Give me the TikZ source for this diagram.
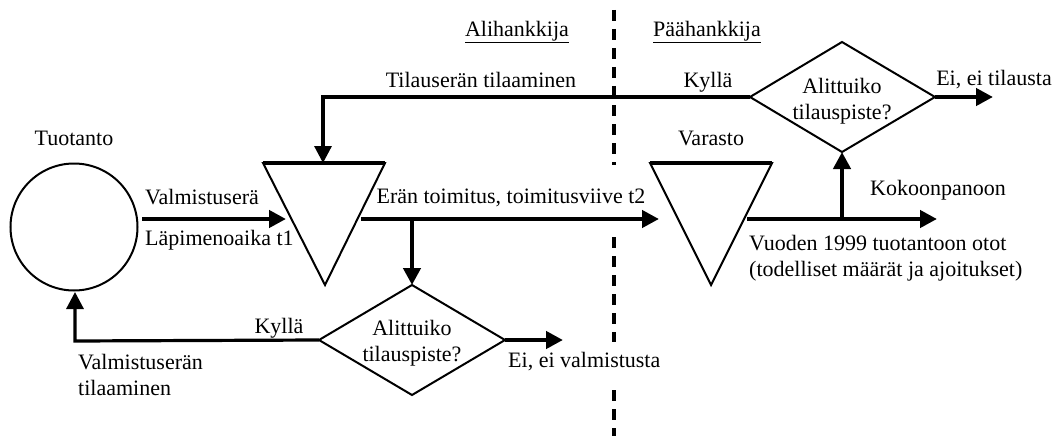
\documentclass[tikz,border=0pt]{standalone}
\usepackage{fontspec}
\setmainfont{Liberation Serif}
\usetikzlibrary{arrows.meta}
\begin{document}
\begin{tikzpicture}[x=1pt,y=-1pt,
  lbl/.style={font=\fontsize{22}{26}\selectfont, inner sep=0pt},
  outline/.style={line width=2pt, line join=miter},
  thickedge/.style={line width=4.5pt},
  thinconn/.style={line width=3.2pt},
  thickconn/.style={line width=4.5pt},
  arr/.style={-{Triangle[length=17pt,width=17pt]}},
  divider/.style={line width=4.5pt, dash pattern=on 11pt off 8pt}]
\useasboundingbox (0,0) rectangle (1055,436);
% dividing line
\coordinate (v1) at (614,10);  \coordinate (v2) at (614,165);
\coordinate (v3) at (614,237); \coordinate (v4) at (614,342);
\coordinate (v5) at (614,390); \coordinate (v6) at (614,436);
\draw[divider] (v1) -- (v2);
\draw[divider] (v3) -- (v4);
\draw[divider] (v5) -- (v6);
\node[lbl] (ali) at (517,32) {\underline{Alihankkija}};
\node[lbl] (paa) at (707,32) {\underline{Päähankkija}};
% production circle
\node[circle, draw, line width=2pt, minimum size=127pt, inner sep=0pt] (tuot) at (74,227) {};
\node[lbl] (tuotl) at (74,138) {Tuotanto};
% triangle 1
\coordinate (t1a) at (263,163); \coordinate (t1b) at (385,163); \coordinate (t1c) at (325,285);
\draw[outline] (t1a) -- (t1b) -- (t1c) -- cycle;
\draw[thickedge] (t1a) -- (t1b);
% triangle Varasto
\coordinate (t2a) at (650,163); \coordinate (t2b) at (772,163); \coordinate (t2c) at (711,285);
\draw[outline] (t2a) -- (t2b) -- (t2c) -- cycle;
\draw[thickedge] (t2a) -- (t2b);
\node[lbl] (varl) at (711,138) {Varasto};
% diamond top
\coordinate (d2l) at (750,97); \coordinate (d2t) at (842,42); \coordinate (d2r) at (935,97); \coordinate (d2b) at (842,152);
\draw[outline] (d2l) -- (d2t) -- (d2r) -- (d2b) -- cycle;
\node[lbl, align=center] (d2) at (842,101) {Alittuiko\\tilauspiste?};
% diamond bottom
\coordinate (d1l) at (319,340); \coordinate (d1t) at (412,285); \coordinate (d1r) at (505,340); \coordinate (d1b) at (412,395);
\draw[outline] (d1l) -- (d1t) -- (d1r) -- (d1b) -- cycle;
\node[lbl, align=center] (d1) at (412,343) {Alittuiko\\tilauspiste?};
% connectors
\coordinate (c1s) at (142,219); \coordinate (c1e) at (286,219);
\draw[thickconn, arr] (c1s) -- (c1e);
\node[lbl, anchor=west] (valm) at (145,197) {Valmistuserä};
\node[lbl, anchor=west] (lapi) at (145,240) {Läpimenoaika t1};
\coordinate (c2s) at (361,219); \coordinate (c2e) at (659,219); \coordinate (c2b) at (412,219);
\draw[thickconn, arr] (c2s) -- (c2e);
\draw[thickconn, arr] (c2b) -- (d1t);
\node[lbl] (eran) at (511,198) {Erän toimitus, toimitusviive t2};
\coordinate (c3s) at (747,219); \coordinate (c3e) at (937,219); \coordinate (c3b) at (842,219);
\draw[thickconn, arr] (c3s) -- (c3e);
\draw[thickconn, arr] (c3b) -- (d2b);
\node[lbl] (kok) at (938,190) {Kokoonpanoon};
\node[lbl, anchor=west, align=left] (vuod) at (749,258) {Vuoden 1999 tuotantoon otot\\(todelliset määrät ja ajoitukset)};
\coordinate (c4k) at (323,97); \coordinate (c4e) at (323,163);
\draw[thinconn, arr] (d2l) -- (c4k) -- (c4e);
\node[lbl] (tilo) at (481,80) {Tilauserän tilaaminen};
\node[lbl] (kyl2) at (708,82) {Kyllä};
\coordinate (c5e) at (993,97);
\draw[thickconn, arr] (d2r) -- (c5e);
\node[lbl] (eit) at (994,80) {Ei, ei tilausta};
\coordinate (c6k) at (75,341); \coordinate (c6e) at (75,292);
\draw[thinconn, arr] (d1l) -- (c6k) -- (c6e);
\node[lbl] (kyl1) at (279,328) {Kyllä};
\node[lbl, anchor=west, align=left] (valt) at (78,375) {Valmistuserän\\tilaaminen};
\coordinate (c7e) at (563,340);
\draw[thickconn, arr] (d1r) -- (c7e);
\node[lbl, anchor=west] (eiv) at (508,362) {Ei, ei valmistusta};
\end{tikzpicture}
\end{document}
